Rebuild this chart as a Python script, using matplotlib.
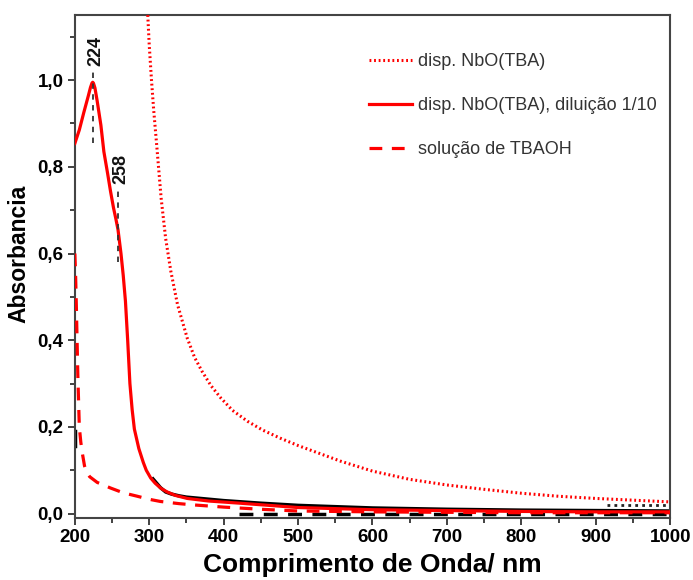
import matplotlib
matplotlib.use('Agg')
import matplotlib.pyplot as plt
from matplotlib.ticker import MultipleLocator, FuncFormatter

plt.rcParams['font.family'] = ['Liberation Sans', 'DejaVu Sans']

# disp. NbO(TBA) (dotted)
wl_disp = [298, 300, 303, 306, 310, 316, 322, 329, 338, 351, 361, 371, 383, 396, 412, 432,
           452, 476, 500, 530, 557, 600, 650, 700, 750, 800, 850, 900, 950, 1000]
ab_disp = [1.15, 1.08, 1.0, 0.93, 0.85, 0.727, 0.635, 0.559, 0.482, 0.405, 0.36, 0.328,
           0.295, 0.267, 0.238, 0.213, 0.193, 0.174, 0.157, 0.138, 0.121, 0.098, 0.079,
           0.066, 0.056, 0.047, 0.040, 0.035, 0.031, 0.027]

# disp. NbO(TBA), diluicao 1/10 (solid)
wl_dil = [200, 206, 212, 218, 221, 223, 224, 225, 227, 230, 235, 239, 244, 248, 252, 255,
          258, 262, 265, 268, 271, 274, 277, 280, 286, 292, 296, 302, 308, 316, 324, 335,
          351, 380, 422, 500, 600, 700, 800, 900, 1000]
ab_dil = [0.854, 0.885, 0.925, 0.963, 0.983, 0.993, 0.995, 0.993, 0.982, 0.952, 0.896,
          0.835, 0.785, 0.743, 0.705, 0.681, 0.655, 0.6, 0.55, 0.49, 0.4, 0.3, 0.24, 0.195,
          0.15, 0.118, 0.1, 0.082, 0.07, 0.058, 0.05, 0.042, 0.035, 0.029, 0.024, 0.014,
          0.009, 0.007, 0.005, 0.004, 0.004]

# solucao de TBAOH (dashed)
wl_tbaoh = [200, 201, 202, 203, 204, 205, 206, 208, 210, 213, 216, 220, 230, 248, 265, 284,
            300, 315, 340, 360, 400, 450, 500, 600, 700, 800, 900, 1000]
ab_tbaoh = [0.6, 0.55, 0.48, 0.4, 0.32, 0.26, 0.2, 0.165, 0.14, 0.11, 0.095, 0.085, 0.072,
            0.059, 0.048, 0.04, 0.033, 0.028, 0.023, 0.02, 0.015, 0.01, 0.006, 0.004, 0.003,
            0.002, 0.002, 0.002]

# black traces underneath
wl_blk = [305, 310, 315, 322, 330, 340, 350, 375, 400, 450, 500, 600, 700, 800, 900, 1000]
ab_blk = [0.08, 0.07, 0.06, 0.05, 0.045, 0.041, 0.038, 0.034, 0.03, 0.024, 0.019, 0.013,
          0.010, 0.008, 0.007, 0.006]
wl_blk_dash = [420, 500, 600, 700, 800, 900, 1000]
ab_blk_dash = [0.0, 0.0, 0.0, 0.0, 0.0, 0.0, 0.0]
wl_blk_start = [200.5, 200.5]
ab_blk_start = [0.155, 0.19]
wl_blk_dots = [915, 1000]
ab_blk_dots = [0.02, 0.02]

peaks = [224, 258]
peak_lines = [(0.855, 1.02), (0.58, 0.745)]
peak_text_x = [228, 262]
peak_text_y = [1.068, 0.794]

fig = plt.figure(figsize=(6.93, 5.80), dpi=100)
ax = fig.add_axes([0.108, 0.107, 0.859, 0.867])

ax.plot(wl_blk, ab_blk, color='black', lw=2.5, zorder=2)
ax.plot(wl_blk_dash, ab_blk_dash, color='black', lw=2.5, ls=(0, (4, 3)), zorder=2)
ax.plot(wl_blk_start, ab_blk_start, color='black', lw=2.5, zorder=2)
ax.plot(wl_blk_dots, ab_blk_dots, color='#222222', lw=2, ls=(0, (1, 1.5)), zorder=2)

ax.plot(wl_disp, ab_disp, color='red', lw=2.2, ls=(0, (0.6, 0.9)), zorder=3,
        label='disp. NbO(TBA)')
ax.plot(wl_dil, ab_dil, color='red', lw=2.3, zorder=3,
        label='disp. NbO(TBA), diluição 1/10')
ax.plot(wl_tbaoh, ab_tbaoh, color='red', lw=2.3, ls=(0, (4, 3)), zorder=3,
        label='solução de TBAOH')

for p, (y0, y1), tx, ty in zip(peaks, peak_lines, peak_text_x, peak_text_y):
    ax.plot([p, p], [y0, y1], color='#333333', lw=1.3, ls=(0, (3, 3)), zorder=4)
    ax.text(tx, ty, str(p), rotation=90, ha='center', va='center',
            fontsize=13, fontweight='bold', color='#111111')

ax.set_xlim(200, 1000)
ax.set_ylim(-0.01, 1.15)
ax.xaxis.set_major_locator(MultipleLocator(100))
ax.xaxis.set_minor_locator(MultipleLocator(50))
ax.yaxis.set_major_locator(MultipleLocator(0.2))
ax.yaxis.set_minor_locator(MultipleLocator(0.1))
ax.yaxis.set_major_formatter(FuncFormatter(lambda v, pos: ('%.1f' % v).replace('.', ',')))

ax.tick_params(which='both', direction='out', top=False, right=False,
               color='#333333', width=1.3)
ax.tick_params(which='major', length=5, labelsize=13.5, pad=3)
ax.tick_params(which='minor', length=3.5)
for lab in ax.get_xticklabels() + ax.get_yticklabels():
    lab.set_fontweight('bold')
for s in ax.spines.values():
    s.set_color('#444444')
    s.set_linewidth(1.5)

ax.set_xlabel('Comprimento de Onda/ nm', fontsize=19, fontweight='bold', labelpad=5)
ax.set_ylabel('Absorbancia', fontsize=16.5, fontweight='bold')
ax.yaxis.set_label_coords(-0.074, 0.525)

leg = ax.legend(loc='upper left', bbox_to_anchor=(0.494, 0.924), frameon=False,
                fontsize=13, labelspacing=1.5, handlelength=2.4, handletextpad=0.3,
                borderpad=0, borderaxespad=0)
for t in leg.get_texts():
    t.set_color('#333333')

fig.savefig('out.png', dpi=100)
